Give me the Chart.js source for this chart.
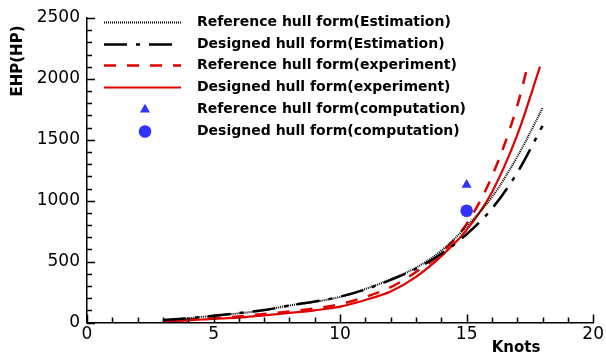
<!DOCTYPE html>
<html>
<head>
<meta charset="utf-8">
<script src="https://cdn.jsdelivr.net/npm/chart.js@4.4.0/dist/chart.umd.min.js"></script>
<style>
  html, body { margin: 0; padding: 0; background: #fff; }
  #wrap { width: 606px; height: 358px; }
</style>
</head>
<body>
<div id="wrap"><canvas id="chart" width="606" height="358"></canvas></div>
<script>
// Valores (nós x EHP)
const knotsRefEst = [3, 4, 5, 6, 7, 8, 9, 10, 11, 12, 13, 14, 15, 16, 17, 18];
const ehpRefEst = [20, 35, 55, 75, 100, 140, 170, 210, 275, 355, 450, 590, 790, 1030, 1360, 1760];

const knotsDesEst = [3, 4, 5, 6, 7, 8, 9, 10, 11, 12, 13, 14, 15, 16, 17, 18];
const ehpDesEst = [20, 35, 55, 78, 102, 140, 172, 212, 272, 350, 442, 565, 725, 935, 1230, 1615];

const knotsRefExp = [3, 4, 5, 6, 7, 8, 9, 10, 11, 12, 13, 14, 15, 16, 17, 17.45];
const ehpRefExp = [15, 25, 35, 50, 70, 90, 115, 150, 210, 290, 415, 570, 810, 1200, 1780, 2140];

const knotsDesExp = [3, 4, 5, 6, 7, 8, 9, 10, 11, 12, 13, 14, 15, 16, 17, 17.9];
const ehpDesExp = [10, 18, 30, 40, 58, 78, 100, 130, 185, 255, 375, 545, 760, 1070, 1540, 2100];

const knotsRefComp = [15];
const ehpRefComp = [1130];
const knotsDesComp = [15];
const ehpDesComp = [917];

const xTicks = [0, 5, 10, 15, 20];
const yTicks = [0, 500, 1000, 1500, 2000, 2500];

const legendLabels = [
    'Reference hull form(Estimation)',
    'Designed hull form(Estimation)',
    'Reference hull form(experiment)',
    'Designed hull form(experiment)',
    'Reference hull form(computation)',
    'Designed hull form(computation)'
];

function toPoints(xs, ys) {
    return xs.map((x, i) => ({ x: x, y: ys[i] }));
}

const RED = '#e00000';
const BLUE = '#3333ff';

// Ticks internos (maiores e menores) nos eixos
const innerTicks = {
    id: 'innerTicks',
    afterDraw(chart) {
        const { ctx, chartArea, scales } = chart;
        const x = scales.x, y = scales.y;
        ctx.save();
        ctx.strokeStyle = '#000';
        ctx.lineWidth = 1.5;
        ctx.beginPath();
        for (let v = 0; v <= 20; v += 1) {
            const px = Math.round(x.getPixelForValue(v)) + 0.5;
            const len = v % 5 === 0 ? 8 : 5;
            ctx.moveTo(px, chartArea.bottom);
            ctx.lineTo(px, chartArea.bottom - len);
        }
        for (let v = 0; v <= 2500; v += 100) {
            const py = Math.round(y.getPixelForValue(v)) + 0.5;
            const len = v % 500 === 0 ? 8 : 5;
            ctx.moveTo(chartArea.left, py);
            ctx.lineTo(chartArea.left + len, py);
        }
        ctx.stroke();

        // Títulos dos eixos
        ctx.fillStyle = '#000';
        ctx.font = 'bold 15px "DejaVu Sans"';
        ctx.textAlign = 'center';
        ctx.textBaseline = 'middle';
        ctx.fillText('Knots', x.getPixelForValue(16.95), 348);
        ctx.translate(18, 61);
        ctx.rotate(-Math.PI / 2);
        ctx.fillText('EHP(HP)', 0, 0);
        ctx.restore();
    }
};

// Legenda desenhada dentro da área do gráfico
const innerLegend = {
    id: 'innerLegend',
    afterDraw(chart) {
        const ctx = chart.ctx;
        const x0 = 104, x1 = 181, textX = 197;
        const top = 22, step = 21.7;
        ctx.save();
        chart.data.datasets.forEach((ds, i) => {
            const yy = Math.round(top + i * step) + 0.5;
            if (ds.showLine) {
                ctx.strokeStyle = ds.borderColor;
                ctx.lineWidth = ds.borderWidth;
                ctx.setLineDash(ds.borderDash || []);
                ctx.beginPath();
                ctx.moveTo(x0, yy);
                ctx.lineTo(x1, yy);
                ctx.stroke();
                ctx.setLineDash([]);
            } else {
                ctx.fillStyle = ds.backgroundColor;
                Chart.helpers.drawPoint(ctx, {
                    pointStyle: ds.pointStyle,
                    radius: ds.pointRadius,
                    borderWidth: 0,
                    rotation: 0
                }, 145, yy);
            }
            ctx.fillStyle = '#000';
            ctx.font = 'bold 14px "DejaVu Sans"';
            ctx.textAlign = 'left';
            ctx.textBaseline = 'middle';
            ctx.fillText(legendLabels[i], textX, yy);
        });
        ctx.restore();
    }
};

const lineBase = { showLine: true, pointRadius: 0, pointHoverRadius: 0, fill: false, cubicInterpolationMode: 'monotone' };

new Chart(document.getElementById('chart'), {
    type: 'scatter',
    data: {
        datasets: [
            Object.assign({}, lineBase, {
                label: legendLabels[0],
                data: toPoints(knotsRefEst, ehpRefEst),
                borderColor: '#000',
                borderWidth: 2,
                borderDash: [1, 1]
            }),
            Object.assign({}, lineBase, {
                label: legendLabels[1],
                data: toPoints(knotsDesEst, ehpDesEst),
                borderColor: '#000',
                borderWidth: 2.5,
                borderDash: [23, 9, 4, 9]
            }),
            Object.assign({}, lineBase, {
                label: legendLabels[2],
                data: toPoints(knotsRefExp, ehpRefExp),
                borderColor: RED,
                borderWidth: 2.5,
                borderDash: [12, 11]
            }),
            Object.assign({}, lineBase, {
                label: legendLabels[3],
                data: toPoints(knotsDesExp, ehpDesExp),
                borderColor: RED,
                borderWidth: 2.2
            }),
            {
                label: legendLabels[4],
                data: toPoints(knotsRefComp, ehpRefComp),
                showLine: false,
                pointStyle: 'triangle',
                pointRadius: 5.8,
                backgroundColor: BLUE,
                borderColor: BLUE,
                borderWidth: 0
            },
            {
                label: legendLabels[5],
                data: toPoints(knotsDesComp, ehpDesComp),
                showLine: false,
                pointStyle: 'circle',
                pointRadius: 6.3,
                backgroundColor: BLUE,
                borderColor: BLUE,
                borderWidth: 0
            }
        ]
    },
    options: {
        responsive: false,
        animation: false,
        layout: { padding: { top: 18, right: 11, left: 0, bottom: 0 } },
        plugins: {
            legend: { display: false },
            tooltip: { enabled: false }
        },
        scales: {
            x: {
                type: 'linear',
                min: 0,
                max: 20,
                afterBuildTicks: (scale) => { scale.ticks = xTicks.map(v => ({ value: v })); },
                afterFit: (scale) => { scale.height = 35.5; },
                grid: { drawOnChartArea: false, drawTicks: false },
                border: { display: true, color: '#000', width: 1.5 },
                ticks: {
                    color: '#000',
                    padding: 2,
                    maxRotation: 0,
                    callback: (v) => String(v),
                    font: { family: 'DejaVu Sans', size: 17 }
                }
            },
            y: {
                type: 'linear',
                min: 0,
                max: 2500,
                afterBuildTicks: (scale) => { scale.ticks = yTicks.map(v => ({ value: v })); },
                afterFit: (scale) => { scale.width = 87; },
                grid: { drawOnChartArea: false, drawTicks: false },
                border: { display: true, color: '#000', width: 1.5 },
                ticks: {
                    color: '#000',
                    padding: 7,
                    callback: (v) => String(v),
                    font: { family: 'DejaVu Sans', size: 17 }
                }
            }
        }
    },
    plugins: [innerTicks, innerLegend]
});
</script>
</body>
</html>
